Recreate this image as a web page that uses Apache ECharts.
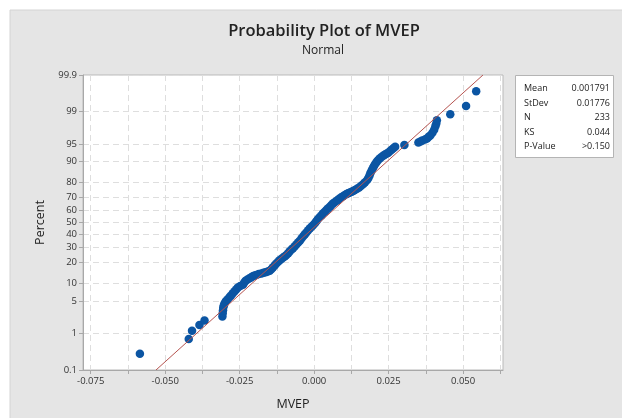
<!DOCTYPE html>
<html>
<head>
<meta charset="utf-8">
<script src="https://cdn.jsdelivr.net/npm/echarts@6/dist/echarts.min.js"></script>
<style>html,body{margin:0;padding:0;background:#fff}#c{width:622px;height:418px}</style>
</head>
<body>
<div id="c"></div>
<script>
// ---- data ----
const mvep = [-0.0585,-0.0421,-0.0410,-0.0385,-0.0368,
-0.0308,-0.0307,-0.0306,-0.0305,-0.0303,-0.0300,-0.0296,-0.0290,-0.0284,-0.0279,-0.0273,-0.0267,-0.0261,-0.0256,-0.0248,-0.0239,-0.0235,-0.0231,-0.0225,-0.0218,-0.0212,-0.0206,-0.0200,-0.0194,-0.0186,-0.0177,-0.0170,-0.0163,-0.0156,-0.0149,-0.0143,-0.0138,-0.0132,-0.0127,-0.0121,-0.0116,-0.0110,-0.0104,-0.0098,-0.0093,-0.0087,-0.0082,-0.0076,-0.0071,-0.0065,-0.0059,-0.0053,-0.0048,-0.0042,-0.0036,-0.0031,-0.0026,-0.0020,-0.0014,-0.0008,-0.0003,0.0003,0.0008,0.0013,0.0019,0.0025,0.0030,0.0036,0.0041,0.0047,0.0053,0.0058,0.0064,0.0070,0.0077,0.0083,0.0090,0.0097,0.0103,0.0109,0.0114,0.0120,0.0126,0.0131,0.0137,0.0144,0.0151,0.0158,0.0165,0.0171,0.0178,0.0182,0.0186,0.0189,0.0193,0.0197,0.0201,0.0205,0.0210,0.0215,0.0221,0.0227,0.0233,0.0238,0.0244,0.0249,0.0255,0.0261,0.0267,0.0272,
0.0303,0.0350,0.0357,0.0363,0.0372,0.0379,0.0385,0.0390,0.0397,0.0403,0.0407,0.0410,0.0412,0.0457,0.0510,0.0544];
const percent = [0.3,0.73,1.16,1.59,2.01,
2.44,2.87,3.3,3.73,4.16,4.6,5.0,5.4,5.9,6.3,6.9,7.5,8.1,8.7,9.2,9.6,10.3,11.0,11.5,12.0,12.5,13.0,13.3,13.6,14.0,14.3,14.6,14.9,15.2,15.6,16.5,17.4,18.5,19.5,20.5,21.5,22.3,23.2,24.0,24.8,26.0,27.3,28.5,29.5,31.0,32.5,34.0,35.2,37.0,38.8,40.3,41.8,43.5,45.2,46.6,48.0,49.6,51.2,52.9,54.5,56.1,57.6,59.0,60.3,61.7,63.0,64.3,65.6,66.6,67.8,68.9,70.0,70.9,71.8,72.4,73.0,73.5,74.1,74.6,75.2,76.0,76.8,77.9,79.0,80.1,81.3,82.5,83.8,85.0,86.2,87.2,88.2,89.0,89.8,90.5,91.1,91.6,92.0,92.3,92.6,92.8,93.3,93.7,94.1,94.4,
94.8,95.3,95.5,95.7,95.9,96.1,96.4,96.6,97.0,97.4,97.8,98.1,98.4,98.84,99.27,99.7];
const percentTicks = [0.1,1,5,10,20,30,40,50,60,70,80,90,95,99,99.9];
const xTickValues = [-0.075,-0.0625,-0.05,-0.0375,-0.025,-0.0125,0,0.0125,0.025,0.0375,0.05,0.0625];
const xLabelStep = 0.025;
const statNames = ['Mean','StDev','N','KS','P-Value'];
const statValues = ['0.001791','0.01776','233','0.044','>0.150'];
const fitMean = 0.001791, fitSd = 0.01776;

// normal probability scale (inverse normal CDF)
function probit(p){
  const a=[-3.969683028665376e+01,2.209460984245205e+02,-2.759285104469687e+02,1.383577518672690e+02,-3.066479806614716e+01,2.506628277459239e+00];
  const b=[-5.447609879822406e+01,1.615858368580409e+02,-1.556989798598866e+02,6.680131188771972e+01,-1.328068155288572e+01];
  const c=[-7.784894002430293e-03,-3.223964580411365e-01,-2.400758277161838e+00,-2.549732539343734e+00,4.374664141464968e+00,2.938163982698783e+00];
  const d=[7.784695709041462e-03,3.224671290700398e-01,2.445134137142996e+00,3.754408661907416e+00];
  const pl=0.02425, ph=1-pl; let q,r;
  if(p<pl){q=Math.sqrt(-2*Math.log(p));return (((((c[0]*q+c[1])*q+c[2])*q+c[3])*q+c[4])*q+c[5])/((((d[0]*q+d[1])*q+d[2])*q+d[3])*q+1);}
  if(p<=ph){q=p-0.5;r=q*q;return (((((a[0]*r+a[1])*r+a[2])*r+a[3])*r+a[4])*r+a[5])*q/(((((b[0]*r+b[1])*r+b[2])*r+b[3])*r+b[4])*r+1);}
  q=Math.sqrt(-2*Math.log(1-p));return -(((((c[0]*q+c[1])*q+c[2])*q+c[3])*q+c[4])*q+c[5])/((((d[0]*q+d[1])*q+d[2])*q+d[3])*q+1);
}
const z = p => probit(p/100);
const zTicks = percentTicks.map(z);
const zMin = z(0.1), zMax = z(99.9);
const points = mvep.map((v,i)=>[v, z(percent[i])]);
const fitLine = [[fitMean + fitSd*zMin, zMin],[fitMean + fitSd*zMax, zMax]];

const FONT = 'Open Sans';
const chart = echarts.init(document.getElementById('c'), null, {renderer:'canvas'});
const statGraphics = [];
statNames.forEach((n,i)=>{
  statGraphics.push({type:'text', left:524, top:84+i*14.6, style:{text:n, font:'9px "'+FONT+'"', fill:'#222'}});
  statGraphics.push({type:'text', right:12, top:84+i*14.6, style:{text:statValues[i], font:'9px "'+FONT+'"', fill:'#222', align:'right'}});
});
chart.setOption({
  backgroundColor:'#ffffff',
  animation:false,
  graphic:[
    {type:'rect', shape:{x:10,y:10,width:620,height:420}, style:{fill:'#e5e5e5', stroke:'#d4d4d4'}, z:-10},
    {type:'text', x:324, y:31, style:{text:'Probability Plot of MVEP', font:'600 16.5px "'+FONT+'"', fill:'#222', align:'center', verticalAlign:'middle'}},
    {type:'text', x:323, y:51, style:{text:'Normal', font:'12px "'+FONT+'"', fill:'#222', align:'center', verticalAlign:'middle'}},
    {type:'rect', shape:{x:515.5,y:75.5,width:98,height:82}, style:{fill:'#fff', stroke:'#b4b4b4', lineWidth:1}},
    ...statGraphics
  ],
  grid:{left:83, top:75, width:420, height:295, show:true, backgroundColor:'#ffffff', borderColor:'#b9b9b9', borderWidth:1},
  xAxis:{
    type:'value', min:-0.0776, max:0.0634,
    name:'MVEP', nameLocation:'middle', nameGap:28,
    nameTextStyle:{fontFamily:FONT, fontSize:12.5, color:'#222'},
    axisLine:{show:true, onZero:false, lineStyle:{color:'#a8a8a8'}},
    axisTick:{show:true, length:4, customValues:xTickValues, lineStyle:{color:'#a8a8a8'}},
    axisLabel:{customValues:xTickValues, fontFamily:FONT, fontSize:9.5, color:'#333', margin:6,
      formatter:v=>{const k=v/xLabelStep; return Math.abs(k-Math.round(k))<1e-6 ? v.toFixed(3) : '';}},
    splitLine:{show:true, lineStyle:{color:'#dedede', type:[6,4], width:1}}
  },
  yAxis:{
    type:'value', min:zMin, max:zMax,
    name:'Percent', nameLocation:'middle', nameGap:33, nameRotate:90,
    nameTextStyle:{fontFamily:FONT, fontSize:12.5, color:'#222'},
    axisLine:{show:true, onZero:false, lineStyle:{color:'#a8a8a8'}},
    axisTick:{show:true, length:4, customValues:zTicks, lineStyle:{color:'#a8a8a8'}},
    axisLabel:{customValues:zTicks, fontFamily:FONT, fontSize:9.5, color:'#333', margin:6,
      formatter:v=>{let best=0;zTicks.forEach((t,i)=>{if(Math.abs(t-v)<Math.abs(zTicks[best]-v))best=i;});return String(percentTicks[best]);}},
    splitLine:{show:true, lineStyle:{color:'#dedede', type:[6,4], width:1}}
  },
  series:[
    {type:'scatter', data:points, symbol:'circle', symbolSize:8.5, itemStyle:{color:'#0b55a3', opacity:1}, z:3, silent:true},
    {type:'line', data:fitLine, symbol:'none', lineStyle:{color:'#b5534f', width:1}, z:4, silent:true}
  ]
});
</script>
</body>
</html>
